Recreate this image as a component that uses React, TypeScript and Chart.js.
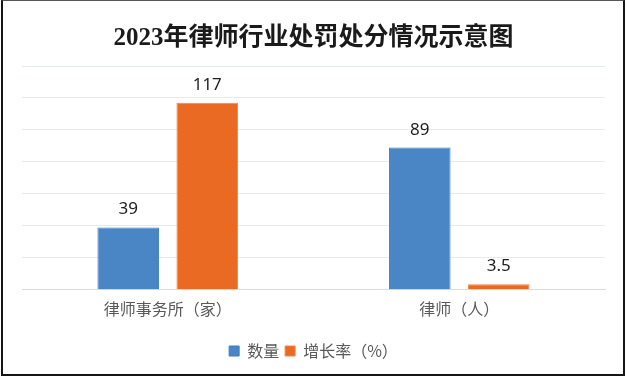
import React, { useEffect, useRef } from "react";
import { Chart, registerables } from "chart.js";

Chart.register(...registerables);

const TITLE = "2023年律师行业处罚处分情况示意图";
const categories = ["律师事务所（家）", "律师（人）"];
const seriesNames = ["数量", "增长率（%）"];
const countValues = [39, 89];
const growthValues = [117, 3.5];
const yMax = 140;
const yStep = 20;

const CJK = "'Noto Sans CJK SC', 'Noto Sans', sans-serif";

const valueLabels = {
  id: "valueLabels",
  afterDatasetsDraw(chart: any) {
    const ctx = chart.ctx;
    ctx.save();
    ctx.font = "17px 'Noto Sans', 'DejaVu Sans', sans-serif";
    ctx.fillStyle = "#1e1e1e";
    ctx.textAlign = "center";
    ctx.textBaseline = "alphabetic";
    chart.data.datasets.forEach((ds: any, di: number) => {
      const meta = chart.getDatasetMeta(di);
      meta.data.forEach((bar: any, i: number) => {
        ctx.fillText(String(ds.data[i]), bar.x, bar.y - 13);
      });
    });
    ctx.restore();
  },
};

export default function App() {
  const ref = useRef<HTMLCanvasElement | null>(null);

  useEffect(() => {
    if (!ref.current) return;
    const chart = new Chart(ref.current, {
      type: "bar",
      data: {
        labels: categories,
        datasets: [
          {
            label: seriesNames[0],
            data: countValues,
            backgroundColor: "#4a86c6",
            borderColor: "#3f7dbf",
            borderWidth: 1,
            categoryPercentage: 0.542,
            barPercentage: 0.78,
          },
          {
            label: seriesNames[1],
            data: growthValues,
            backgroundColor: "#ea6a23",
            borderColor: "#f08548",
            borderWidth: 1,
            categoryPercentage: 0.542,
            barPercentage: 0.78,
          },
        ],
      },
      options: {
        responsive: false,
        devicePixelRatio: 1,
        animation: false,
        layout: { padding: { left: 22, right: 22, top: 0, bottom: 10 } },
        scales: {
          x: {
            grid: { display: false, drawTicks: false },
            border: { display: true, color: "#d6dde5", width: 1 },
            ticks: {
              color: "#595959",
              font: { family: CJK, size: 16 },
              padding: 10,
            },
            afterFit(axis: any) {
              axis.height += 8;
            },
          },
          y: {
            min: 0,
            max: yMax,
            ticks: { display: false, stepSize: yStep },
            grid: { color: "#e4eaf1", drawTicks: false },
            border: { display: false },
          },
        },
        plugins: {
          title: {
            display: true,
            text: TITLE,
            color: "#1a1a1a",
            font: { family: "'Liberation Serif', 'Noto Sans CJK SC', serif", size: 25, weight: "bold" },
            padding: { top: 24, bottom: 12 },
          },
          legend: {
            display: true,
            position: "bottom",
            labels: {
              color: "#595959",
              font: { family: CJK, size: 16 },
              boxWidth: 10,
              boxHeight: 10,
              padding: 6,
            },
          },
          tooltip: { enabled: false },
        },
      },
      plugins: [valueLabels],
    });
    return () => chart.destroy();
  }, []);

  return (
    <div
      style={{
        position: "fixed",
        left: 0,
        top: 0,
        width: 627,
        height: 379,
        background: "#ffffff",
        overflow: "hidden",
      }}
    >
      <canvas ref={ref} width={627} height={379} style={{ display: "block" }} />
      <div
        style={{
          position: "absolute",
          left: 1,
          top: 0,
          width: 624,
          height: 376,
          boxSizing: "border-box",
          borderLeft: "2px solid #151515",
          borderRight: "2px solid #151515",
          borderTop: "1px solid #555",
          borderBottom: "2px solid #151515",
          pointerEvents: "none",
        }}
      />
    </div>
  );
}
